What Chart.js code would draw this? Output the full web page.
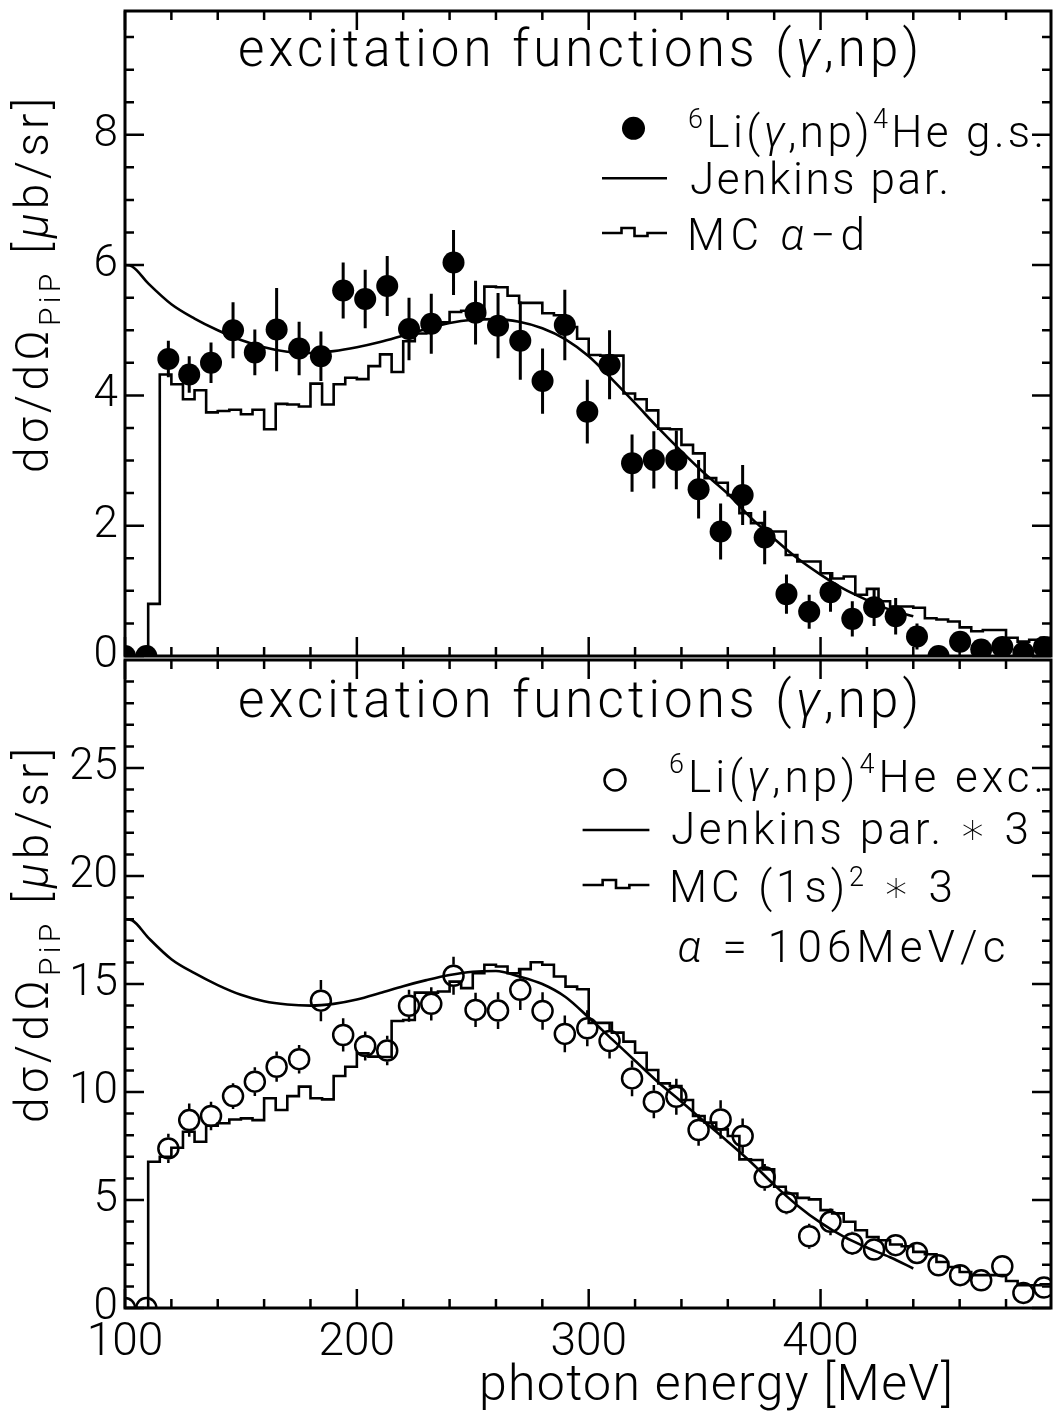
<!DOCTYPE html>
<html>
<head>
<meta charset="utf-8">
<script src="https://cdn.jsdelivr.net/npm/chart.js@4.4.1/dist/chart.umd.min.js"></script>
<style>
  html, body { margin: 0; padding: 0; background: #fff; }
  .panel { position: absolute; left: 0; top: 0; width: 1053px; height: 1413px; }
</style>
</head>
<body>
<div class="panel"><canvas id="topChart" width="1053" height="1413"></canvas></div>
<div class="panel"><canvas id="bottomChart" width="1053" height="1413"></canvas></div>
<script>
const FAMILY = 'Roboto, "DejaVu Sans", sans-serif';
const WEIGHT = 300;

// photon energies of the measured points [MeV]
const energies = [100.0, 109.2, 118.7, 127.7, 137.1, 146.6, 156.0, 165.4, 175.1, 184.5,
  194.1, 203.6, 213.1, 222.5, 232.1, 241.7, 251.2, 260.9, 270.5, 280.1,
  289.7, 299.4, 309.0, 318.7, 328.1, 337.8, 347.4, 356.9, 366.4, 375.9,
  385.3, 395.1, 404.3, 413.7, 423.1, 432.4, 441.6, 450.9, 460.2, 469.3,
  478.4, 487.5, 496.4];

// 6Li(g,np)4He ground state [mub/sr]
const gsValues = [0, 0, 4.56, 4.32, 4.50, 5.00, 4.66, 5.01, 4.72, 4.60,
  5.61, 5.48, 5.68, 5.02, 5.10, 6.04, 5.27, 5.07, 4.84, 4.22,
  5.08, 3.75, 4.47, 2.96, 3.01, 3.01, 2.56, 1.91, 2.47, 1.82,
  0.95, 0.68, 0.98, 0.57, 0.75, 0.61, 0.30, 0.0, 0.22, 0.10,
  0.14, 0.05, 0.14];
const gsErrors = [0.1, 0.1, 0.28, 0.28, 0.31, 0.43, 0.35, 0.64, 0.41, 0.38,
  0.43, 0.45, 0.46, 0.48, 0.46, 0.50, 0.49, 0.50, 0.60, 0.50,
  0.54, 0.49, 0.53, 0.44, 0.44, 0.45, 0.45, 0.43, 0.46, 0.41,
  0.30, 0.26, 0.30, 0.27, 0.29, 0.28, 0.20, 0.15, 0.15, 0.12,
  0.12, 0.10, 0.12];

// 6Li(g,np)4He excited states [mub/sr]
const excValues = [0, 0, 7.39, 8.70, 8.89, 9.81, 10.48, 11.17, 11.52, 14.23,
  12.64, 12.13, 11.92, 13.99, 14.08, 15.38, 13.80, 13.77, 14.73, 13.75,
  12.69, 12.95, 12.36, 10.63, 9.55, 9.78, 8.24, 8.73, 7.96, 6.05,
  4.89, 3.32, 3.99, 2.99, 2.71, 2.91, 2.55, 1.98, 1.52, 1.28,
  1.93, 0.70, 0.95];
const excErrors = [0.3, 0.3, 0.68, 0.77, 0.66, 0.60, 0.67, 0.70, 0.66, 0.96,
  0.77, 0.67, 0.68, 0.74, 0.77, 0.88, 0.79, 0.85, 0.93, 0.87,
  0.85, 0.83, 0.81, 0.83, 0.77, 0.83, 0.73, 0.89, 0.81, 0.62,
  0.55, 0.58, 0.62, 0.54, 0.50, 0.50, 0.50, 0.45, 0.45, 0.40,
  0.45, 0.40, 0.40];

// Jenkins parametrisation (plain, and scaled by 3 for the lower panel)
const jenkinsE = [100, 103, 110, 120, 130, 140, 150, 160, 170, 180,
  190, 200, 210, 220, 230, 240, 250, 260, 270, 280,
  290, 300, 310, 320, 330, 340, 350, 360, 370, 380,
  390, 400, 410, 420, 430, 440];
const jenkinsGs = [6.00, 5.98, 5.72, 5.40, 5.18, 5.00, 4.85, 4.74, 4.67, 4.65,
  4.68, 4.74, 4.82, 4.92, 5.02, 5.11, 5.16, 5.17, 5.13, 5.03,
  4.86, 4.60, 4.25, 3.88, 3.50, 3.14, 2.80, 2.49, 2.12, 1.80,
  1.50, 1.25, 1.03, 0.86, 0.71, 0.61];
const jenkinsExc = [18.0, 17.95, 17.15, 16.15, 15.5, 14.95, 14.5, 14.2, 14.05, 14.0,
  14.08, 14.28, 14.58, 14.9, 15.18, 15.42, 15.57, 15.6, 15.35, 15.0,
  14.4, 13.45, 12.45, 11.45, 10.45, 9.55, 8.62, 7.7, 6.75, 5.7,
  4.75, 3.95, 3.3, 2.8, 2.35, 1.83];

// Monte Carlo histograms, 5 MeV bins from 100 MeV
const mcBinStart = 100;
const mcBinWidth = 5;
const mcAlphaD = [
  0, 0, 0.80, 4.32, 4.17, 3.94, 4.08, 3.74, 3.76, 3.78,
  3.71, 3.78, 3.48, 3.87, 3.86, 3.83, 4.18, 3.86, 4.17, 4.27,
  4.25, 4.45, 4.63, 4.36, 4.83, 4.95, 5.10, 5.12, 5.28, 5.30,
  5.30, 5.67, 5.66, 5.53, 5.42, 5.42, 5.26, 5.23, 5.05, 4.87,
  4.62, 4.61, 4.61, 4.03, 3.94, 3.77, 3.49, 3.48, 3.24, 3.11,
  2.73, 2.66, 2.47, 2.19, 2.04, 1.91, 1.91, 1.55, 1.45, 1.45,
  1.27, 1.19, 1.22, 0.94, 1.03, 0.84, 0.76, 0.76, 0.74, 0.58,
  0.56, 0.53, 0.44, 0.38, 0.40, 0.40, 0.28, 0.22, 0.25, 0.28];
const mc1s2 = [
  0, 0, 6.77, 7.00, 7.42, 8.16, 7.70, 8.44, 8.55, 8.73,
  8.78, 8.70, 9.71, 9.17, 9.81, 10.25, 9.71, 9.66, 10.74, 11.17,
  11.79, 11.64, 11.62, 13.29, 13.33, 14.60, 14.60, 14.65, 15.11, 14.81,
  15.50, 15.89, 15.81, 15.50, 15.69, 16.01, 15.89, 15.35, 14.88, 14.76,
  13.20, 13.20, 12.75, 12.33, 11.82, 11.02, 10.40, 10.28, 9.63, 8.89,
  8.58, 8.27, 7.96, 6.88, 6.85, 6.42, 5.61, 5.30, 5.10, 5.03,
  4.53, 4.38, 3.99, 3.60, 3.29, 3.14, 2.94, 2.86, 2.60, 2.49,
  2.13, 1.90, 1.67, 1.52, 1.52, 1.52, 1.25, 1.05, 1.05, 1.10];

// axis ranges and labelled ticks
const xMin = 100, xMax = 499.4;
const xTicks = [100, 200, 300, 400];
const topYMax = 9.9, bottomYMax = 30;
const topYTicks = [0, 2, 4, 6, 8];
const bottomYTicks = [0, 5, 10, 15, 20, 25];

function font(size, style) {
  return `${style || ''} ${WEIGHT} ${size}px ${FAMILY}`;
}

function points(xs, ys) {
  return xs.map((x, i) => ({ x, y: ys[i] }));
}

function histogram(values) {
  const pts = values.map((v, i) => ({ x: mcBinStart + i * mcBinWidth, y: v }));
  pts.push({ x: mcBinStart + values.length * mcBinWidth, y: values[values.length - 1] });
  return pts;
}

// draws text runs [text, size, dy, style] spread to a given width
function drawRuns(ctx, runs, x, y, width) {
  ctx.letterSpacing = '0px';
  let natural = 0, chars = 0;
  for (const [t, size, , style] of runs) {
    ctx.font = font(size, style);
    natural += ctx.measureText(t).width;
    chars += [...t].length;
  }
  const extra = width ? (width - natural) / Math.max(chars - 1, 1) : 0;
  ctx.letterSpacing = extra.toFixed(2) + 'px';
  let cx = x;
  for (const [t, size, dy, style] of runs) {
    ctx.font = font(size, style);
    ctx.fillText(t, cx, y + (dy || 0));
    cx += ctx.measureText(t).width;
  }
  ctx.letterSpacing = '0px';
}

function drawStepSymbol(ctx, x0, x1, y) {
  const w = x1 - x0;
  const shape = [[0, 0], [0.3, 0], [0.3, -5], [0.5, -5], [0.5, 3], [0.7, 3], [0.7, 0], [1, 0]];
  ctx.beginPath();
  shape.forEach(([f, dy], i) => {
    const px = x0 + f * w;
    if (i === 0) ctx.moveTo(px, y + dy); else ctx.lineTo(px, y + dy);
  });
  ctx.stroke();
}

// frame around the plot area with inward ticks on all four sides
const framePlugin = {
  id: 'frame',
  afterDatasetsDraw(chart, args, opts) {
    const { ctx, chartArea: a, scales: { x, y } } = chart;
    ctx.save();
    ctx.strokeStyle = '#000';
    ctx.lineWidth = 2.5;
    ctx.beginPath();
    for (let i = 0; xMin + i * 20 < xMax; i++) {
      const px = x.getPixelForValue(xMin + i * 20);
      const len = i % 5 === 0 ? 19 : 9;
      ctx.moveTo(px, a.bottom); ctx.lineTo(px, a.bottom - len);
      ctx.moveTo(px, a.top); ctx.lineTo(px, a.top + len);
    }
    for (let i = 0; i * opts.minor < y.max; i++) {
      const py = y.getPixelForValue(i * opts.minor);
      const len = i % opts.perMajor === 0 ? 19 : 9;
      ctx.moveTo(a.left, py); ctx.lineTo(a.left + len, py);
      ctx.moveTo(a.right, py); ctx.lineTo(a.right - len, py);
    }
    ctx.stroke();
    ctx.lineWidth = 3;
    ctx.strokeRect(a.left, a.top, a.right - a.left, a.bottom - a.top);
    ctx.restore();
  }
};

// vertical error bars, kept outside of hollow markers
const errorBarPlugin = {
  id: 'errorBars',
  beforeDatasetsDraw(chart) {
    const { ctx, chartArea: a, scales: { y } } = chart;
    ctx.save();
    ctx.beginPath();
    ctx.rect(a.left, a.top, a.right - a.left, a.bottom - a.top);
    ctx.clip();
    chart.data.datasets.forEach((ds, i) => {
      if (!ds.errors) return;
      const meta = chart.getDatasetMeta(i);
      const gap = ds.errorGap || 0;
      ctx.strokeStyle = '#000';
      ctx.lineWidth = ds.errorWidth;
      ctx.beginPath();
      meta.data.forEach((pt, j) => {
        const v = ds.data[j].y, e = ds.errors[j];
        const top = y.getPixelForValue(v + e);
        const bot = y.getPixelForValue(v - e);
        if (pt.y - top > gap) { ctx.moveTo(pt.x, top); ctx.lineTo(pt.x, pt.y - gap); }
        if (bot - pt.y > gap) { ctx.moveTo(pt.x, pt.y + gap); ctx.lineTo(pt.x, bot); }
      });
      ctx.stroke();
    });
    ctx.restore();
  }
};

// titles, legend and axis labels
const labelPlugin = {
  id: 'labels',
  afterDraw(chart, args, opts) {
    const ctx = chart.ctx;
    ctx.save();
    ctx.fillStyle = '#000';
    ctx.strokeStyle = '#000';
    ctx.textBaseline = 'alphabetic';
    ctx.textAlign = 'left';
    for (const t of opts.texts) drawRuns(ctx, t.runs, t.x, t.y, t.w);
    if (opts.yTitle) {
      const t = opts.yTitle;
      ctx.save();
      ctx.translate(t.x, t.y);
      ctx.rotate(-Math.PI / 2);
      drawRuns(ctx, t.runs, 0, 0, t.w);
      ctx.restore();
    }
    const m = opts.marker;
    ctx.beginPath();
    ctx.arc(m.x, m.y, m.r, 0, Math.PI * 2);
    if (m.filled) ctx.fill(); else { ctx.lineWidth = 2.5; ctx.stroke(); }
    ctx.lineWidth = 2.6;
    ctx.beginPath();
    ctx.moveTo(opts.line.x0, opts.line.y); ctx.lineTo(opts.line.x1, opts.line.y);
    ctx.stroke();
    drawStepSymbol(ctx, opts.step.x0, opts.step.x1, opts.step.y);
    ctx.restore();
  }
};

function panelConfig(p) {
  return {
    type: 'line',
    data: {
      datasets: [
        {
          label: p.pointsLabel,
          data: points(energies, p.values),
          showLine: false,
          errors: p.errors,
          errorWidth: p.filled ? 3 : 2.5,
          errorGap: p.filled ? 0 : 11,
          pointRadius: p.filled ? 11 : 10,
          pointBackgroundColor: p.filled ? '#000' : 'rgba(0,0,0,0)',
          pointBorderColor: '#000',
          pointBorderWidth: p.filled ? 0 : 2.5,
          clip: 0
        },
        {
          label: p.curveLabel,
          data: points(jenkinsE, p.jenkins),
          borderColor: '#000',
          borderWidth: 2.6,
          pointRadius: 0,
          cubicInterpolationMode: 'monotone',
          clip: 0
        },
        {
          label: p.mcLabel,
          data: histogram(p.mc),
          stepped: true,
          borderColor: '#000',
          borderWidth: 2.6,
          pointRadius: 0,
          clip: 0
        }
      ]
    },
    options: {
      responsive: false,
      animation: false,
      events: [],
      layout: {
        autoPadding: false,
        padding: { top: p.padTop, bottom: p.padBottom, left: 0, right: 2 }
      },
      plugins: {
        legend: { display: false },
        tooltip: { enabled: false },
        frame: { minor: p.yMinor, perMajor: p.perMajor },
        labels: p.labels
      },
      scales: {
        x: {
          type: 'linear',
          min: xMin,
          max: xMax,
          display: p.showX,
          afterBuildTicks: s => { s.ticks = xTicks.map(value => ({ value })); },
          afterFit: s => {
            s.height = p.showX ? 105 : 0;
            s.paddingLeft = 0;
            s.paddingRight = 0;
          },
          grid: { display: false, drawTicks: false },
          border: { display: false },
          ticks: {
            maxRotation: 0,
            padding: 8,
            color: '#000',
            font: { family: FAMILY, size: 46, weight: WEIGHT }
          }
        },
        y: {
          type: 'linear',
          min: 0,
          max: p.yMax,
          afterBuildTicks: s => { s.ticks = p.yTicks.map(value => ({ value })); },
          afterFit: s => {
            s.width = 125;
            s.paddingTop = 0;
            s.paddingBottom = 0;
          },
          grid: { display: false, drawTicks: false },
          border: { display: false },
          ticks: {
            padding: 7,
            color: '#000',
            font: { family: FAMILY, size: 44, weight: WEIGHT }
          }
        }
      }
    },
    plugins: [errorBarPlugin, framePlugin, labelPlugin]
  };
}

const yTitleRuns = [['dσ/dΩ', 46], ['PiP', 30, 12], [' [', 46], ['μ', 46, 0, 'italic'], ['b/sr]', 46]];

new Chart(document.getElementById('topChart'), panelConfig({
  pointsLabel: '6Li(γ,np)4He g.s.',
  curveLabel: 'Jenkins par.',
  mcLabel: 'MC α−d',
  values: gsValues,
  errors: gsErrors,
  jenkins: jenkinsGs,
  mc: mcAlphaD,
  filled: true,
  yMax: topYMax,
  yTicks: topYTicks,
  yMinor: 0.5,
  perMajor: 4,
  showX: false,
  padTop: 11,
  padBottom: 1413 - 656,
  labels: {
    texts: [
      { runs: [['excitation functions (', 51], ['γ', 51, 0, 'italic'], [',np)', 51]], x: 238, y: 66, w: 681 },
      { runs: [['6', 27, -19], ['Li(', 44], ['γ', 44, 0, 'italic'], [',np)', 44], ['4', 27, -19], ['He g.s.', 44]], x: 688, y: 146.7, w: 356 },
      { runs: [['Jenkins par.', 44]], x: 690, y: 194, w: 259 },
      { runs: [['MC ', 44], ['α', 44, 0, 'italic'], ['−d', 44]], x: 687, y: 250, w: 178 }
    ],
    yTitle: { runs: yTitleRuns, x: 48, y: 473, w: 375 },
    marker: { x: 633.5, y: 128.3, r: 11.5, filled: true },
    line: { x0: 602, x1: 667, y: 178.3 },
    step: { x0: 602, x1: 667, y: 233 }
  }
}));

new Chart(document.getElementById('bottomChart'), panelConfig({
  pointsLabel: '6Li(γ,np)4He exc.',
  curveLabel: 'Jenkins par. * 3',
  mcLabel: 'MC (1s)2 * 3',
  values: excValues,
  errors: excErrors,
  jenkins: jenkinsExc,
  mc: mc1s2,
  filled: false,
  yMax: bottomYMax,
  yTicks: bottomYTicks,
  yMinor: 1,
  perMajor: 5,
  showX: true,
  padTop: 660,
  padBottom: 0,
  labels: {
    texts: [
      { runs: [['excitation functions (', 51], ['γ', 51, 0, 'italic'], [',np)', 51]], x: 238, y: 716.7, w: 681 },
      { runs: [['6', 27, -19], ['Li(', 44], ['γ', 44, 0, 'italic'], [',np)', 44], ['4', 27, -19], ['He exc.', 44]], x: 669, y: 791.7, w: 375 },
      { runs: [['Jenkins par. ∗ 3', 44]], x: 671, y: 844, w: 358 },
      { runs: [['MC (1s)', 44], ['2', 27, -16], [' ∗ 3', 44]], x: 669, y: 901.7, w: 284 },
      { runs: [['α', 44, 0, 'italic'], [' = 106MeV/c', 44]], x: 677.4, y: 961.7, w: 328 },
      { runs: [['photon energy [MeV]', 50]], x: 479, y: 1400, w: 474 }
    ],
    yTitle: { runs: yTitleRuns, x: 48, y: 1123, w: 375 },
    marker: { x: 615, y: 780, r: 10.5, filled: false },
    line: { x0: 582.6, x1: 649.4, y: 830 },
    step: { x0: 582.6, x1: 649.4, y: 885 }
  }
}));
</script>
</body>
</html>
